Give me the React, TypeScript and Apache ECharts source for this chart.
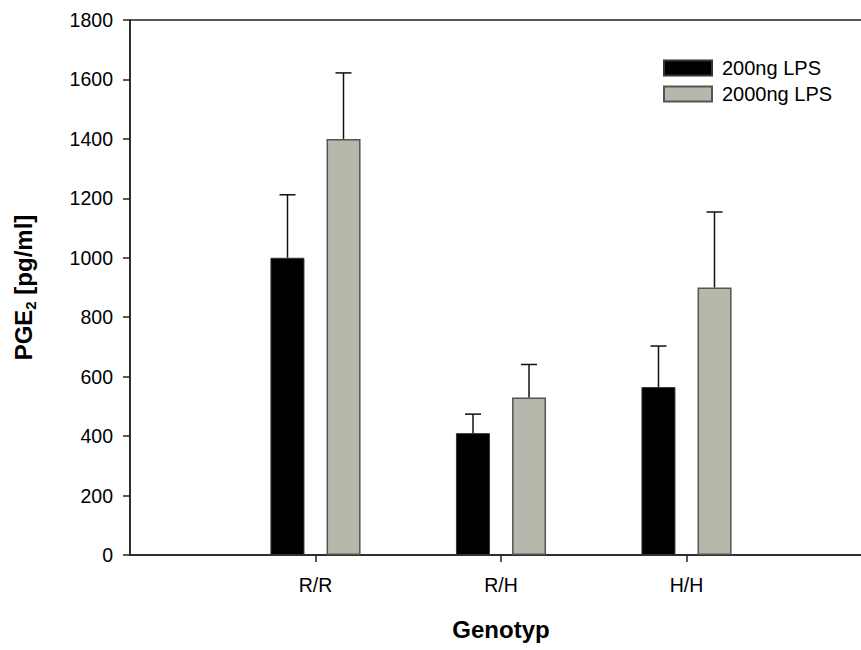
import React, { useEffect, useRef } from "react";
import * as echarts from "echarts";

const categories = ["", "R/R", "R/H", "H/H", ""];
const seriesNames = ["200ng LPS", "2000ng LPS"];
const lps200 = [null, 1000, 410, 565, null];
const lps2000 = [null, 1400, 530, 900, null];
const lps200ErrTop = [null, 1212, 474, 703, null];
const lps2000ErrTop = [null, 1622, 641, 1154, null];
const yTicks = { min: 0, max: 1800, interval: 200 };

const FONT = 'Arial, "Liberation Sans", Helvetica, sans-serif';
const BAR_W = 34;
const OFFSET = 28;
const CAP = 8;

function errData(vals: (number | null)[], tops: (number | null)[]) {
  const out: number[][] = [];
  vals.forEach((v, i) => {
    const t = tops[i];
    if (v != null && t != null) out.push([i, v, t]);
  });
  return out;
}

function errSeries(name: string, data: number[][], dx: number) {
  return {
    type: "custom",
    name: name + " err",
    data,
    z: 5,
    silent: true,
    renderItem: (params: any, api: any) => {
      const x = api.coord([api.value(0), api.value(1)])[0] + dx;
      const y0 = api.coord([api.value(0), api.value(1)])[1];
      const y1 = api.coord([api.value(0), api.value(2)])[1];
      const st = { stroke: "#111", lineWidth: 1.5 };
      return {
        type: "group",
        children: [
          { type: "line", shape: { x1: x, y1: y0, x2: x, y2: y1 }, style: st },
          { type: "line", shape: { x1: x - CAP, y1: y1, x2: x + CAP, y2: y1 }, style: st },
        ],
      };
    },
  };
}

export default function App() {
  const ref = useRef<HTMLDivElement>(null);
  useEffect(() => {
    document.body.style.margin = "0";
    const chart = echarts.init(ref.current!, null, { renderer: "svg" });
    chart.setOption({
      animation: false,
      backgroundColor: "#ffffff",
      textStyle: { fontFamily: FONT },
      grid: {
        left: 130,
        top: 20,
        width: 742,
        height: 535,
        show: true,
        borderColor: "#222",
        borderWidth: 1.5,
        outerBoundsMode: "none",
        containLabel: false,
      },
      legend: {
        orient: "vertical",
        left: 663,
        top: 58,
        padding: 0,
        itemGap: 6,
        itemWidth: 48,
        itemHeight: 15,
        icon: "rect",
        data: seriesNames,
        formatter: (n: string) => `{a|${n}}`,
        textStyle: {
          fontSize: 20,
          color: "#000",
          fontFamily: FONT,
          rich: { a: { fontSize: 20, color: "#000", fontFamily: FONT, padding: [0, 0, 0, 5] } },
        },
      },
      xAxis: {
        type: "category",
        data: categories,
        boundaryGap: false,
        name: "Genotyp",
        nameLocation: "middle",
        nameGap: 62,
        nameTextStyle: { fontSize: 24, fontWeight: "bold", color: "#000", fontFamily: FONT },
        axisLine: { lineStyle: { color: "#222", width: 1.5 } },
        axisTick: {
          length: 7,
          interval: (i: number) => i > 0 && i < categories.length - 1,
          lineStyle: { color: "#222", width: 1.5 },
        },
        axisLabel: { fontSize: 19.5, color: "#000", margin: 20, fontFamily: FONT, interval: 0 },
        splitLine: { show: false },
      },
      yAxis: {
        type: "value",
        min: yTicks.min,
        max: yTicks.max,
        interval: yTicks.interval,
        name: "{b|PGE}{s|2}{b| [pg/ml]}",
        nameLocation: "middle",
        nameRotate: 90,
        nameGap: 92,
        nameTextStyle: {
          rich: {
            b: { fontSize: 24, fontWeight: "bold", color: "#000", fontFamily: FONT, lineHeight: 30 },
            s: {
              fontSize: 15,
              fontWeight: "bold",
              color: "#000",
              fontFamily: FONT,
              lineHeight: 15,
              verticalAlign: "bottom",
            },
          },
        },
        axisLine: { show: true, lineStyle: { color: "#222", width: 1.5 } },
        axisTick: { show: true, length: 7, lineStyle: { color: "#222", width: 1.5 } },
        axisLabel: {
          fontSize: 19.5,
          color: "#000",
          margin: 17,
          fontFamily: FONT,
          formatter: (v: number) => String(v),
        },
        splitLine: { show: false },
      },
      series: [
        {
          type: "bar",
          name: seriesNames[0],
          data: lps200,
          barWidth: BAR_W,
          barGap: "65%",
          itemStyle: { color: "#000000", borderColor: "#333", borderWidth: 1 },
        },
        {
          type: "bar",
          name: seriesNames[1],
          data: lps2000,
          barWidth: BAR_W,
          barGap: "65%",
          itemStyle: { color: "#b7b7ab", borderColor: "#555", borderWidth: 1.5 },
        },
        errSeries(seriesNames[0], errData(lps200, lps200ErrTop), -OFFSET),
        errSeries(seriesNames[1], errData(lps2000, lps2000ErrTop), OFFSET),
      ],
    });
    return () => chart.dispose();
  }, []);
  return <div ref={ref} style={{ width: 861, height: 650 }} />;
}
